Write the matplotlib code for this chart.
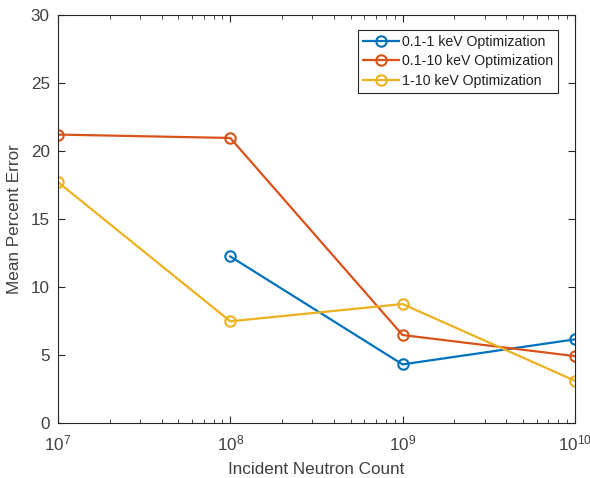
import matplotlib
matplotlib.use("Agg")
import matplotlib.pyplot as plt
from matplotlib.ticker import LogLocator, FixedLocator

plt.rcParams['font.family'] = ['Liberation Sans', 'DejaVu Sans']
plt.rcParams['mathtext.fontset'] = 'custom'
plt.rcParams['mathtext.rm'] = 'Liberation Sans'
plt.rcParams['mathtext.it'] = 'Liberation Sans'

counts_blue = [1e8, 1e9, 1e10]
err_blue = [12.23, 4.29, 6.13]
counts_all = [1e7, 1e8, 1e9, 1e10]
err_orange = [21.2, 20.95, 6.45, 4.90]
err_yellow = [17.7, 7.46, 8.73, 3.09]
labels = ['0.1-1 keV Optimization', '0.1-10 keV Optimization', '1-10 keV Optimization']
colors = ['#0072BD', '#D95319', '#EDB120']

fig = plt.figure(figsize=(5.9, 4.78), dpi=100)
ax = fig.add_axes([0.0983, 0.1157, 0.876, 0.853])

kw = dict(marker='o', markerfacecolor='none', markersize=7.5, markeredgewidth=1.5, linewidth=1.6)
ax.plot(counts_blue, err_blue, color=colors[0], label=labels[0], **kw)
ax.plot(counts_all, err_orange, color=colors[1], label=labels[1], **kw)
ax.plot(counts_all, err_yellow, color=colors[2], label=labels[2], **kw)

ax.set_xscale('log')
ax.set_xlim(1e7, 1e10)
ax.set_ylim(0, 30)
ax.set_yticks([0, 5, 10, 15, 20, 25, 30])
ax.xaxis.set_major_locator(FixedLocator([1e7, 1e8, 1e9, 1e10]))
ax.xaxis.set_minor_locator(LogLocator(base=10, subs=range(2, 10), numticks=20))
ax.set_xticklabels([r'$10^{7}$', r'$10^{8}$', r'$10^{9}$', r'$10^{10}$'])

axcol = '#262626'
txtcol = '#404040'
for s in ax.spines.values():
    s.set_color(axcol)
    s.set_linewidth(0.8)
ax.tick_params(which='both', direction='in', top=True, right=True, colors=axcol, labelsize=12.3)
ax.tick_params(which='major', length=5, width=0.8)
ax.tick_params(axis='x', which='major', pad=8)
ax.tick_params(axis='y', which='major', pad=6)
ax.tick_params(which='minor', length=3, width=0.6)
for lab in ax.get_xticklabels() + ax.get_yticklabels():
    lab.set_color(txtcol)

ax.set_xlabel('Incident Neutron Count', fontsize=12.3, color=txtcol, labelpad=6)
ax.set_ylabel('Mean Percent Error', fontsize=12.3, color=txtcol, labelpad=6)

leg = ax.legend(loc='upper right', bbox_to_anchor=(0.968, 0.963), fontsize=10.2, frameon=True,
                fancybox=False, edgecolor=axcol, framealpha=1, handlelength=2.5,
                handletextpad=0.25, borderpad=0.35, labelspacing=0.38, borderaxespad=0)
leg.get_frame().set_linewidth(0.8)
for t in leg.get_texts():
    t.set_color('#202020')

fig.savefig('out.png', dpi=100)
